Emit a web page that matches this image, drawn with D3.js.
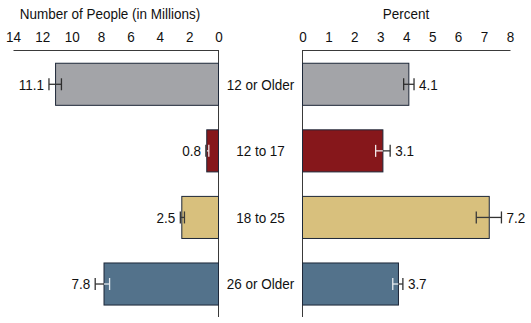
<!DOCTYPE html>
<html><head><meta charset="utf-8">
<script src="https://cdn.jsdelivr.net/npm/d3@7"></script>
<style>
body{margin:0;background:#fff;}
text{font-family:"Liberation Sans",Arial,sans-serif;fill:#111;}
</style></head>
<body><svg id="c" width="531" height="323"></svg>
<script>
const categories = ["12 or Older","12 to 17","18 to 25","26 or Older"];
const peopleMillions = [11.1, 0.8, 2.5, 7.8];
const peopleLow = [10.7, 0.66, 2.32, 7.42];
const peopleHigh = [11.55, 0.86, 2.6, 8.4];
const percentValues = [4.1, 3.1, 7.2, 3.7];
const percentLow = [3.9, 2.82, 6.7, 3.48];
const percentHigh = [4.3, 3.38, 7.67, 3.87];
const leftTicks = [14,12,10,8,6,4,2,0];
const rightTicks = [0,1,2,3,4,5,6,7,8];
const barColors = ["#a3a4a8","#86171b","#d8c07d","#53728b"];
const innerErrColors = ["#2e2e2e","#f2e8ea","#3a3a3a","#e6ebf0"];

const svg = d3.select("#c");
const SX = 0.9, FS = 15;
const xL = d3.scaleLinear().domain([0,14]).range([218.5,13]);
const xR = d3.scaleLinear().domain([0,8]).range([302.5,510]);
const y = d3.scaleBand().domain(categories).range([51,317.3]).paddingInner(0.368).paddingOuter(0.184);

function label(g, x, yy, t, anchor){
  return g.append("text").attr("transform",`translate(${x},${yy}) scale(${SX},1)`)
    .attr("text-anchor",anchor).style("font-size",FS+"px").text(t);
}

// axes
function axis(scale, ticks){
  const g = svg.append("g").attr("transform","translate(0,50)")
    .call(d3.axisTop(scale).tickValues(ticks).tickFormat(d3.format("d")).tickSize(0).tickSizeOuter(0).tickPadding(8.5));
  g.select(".domain").attr("stroke","#3a3a3a").attr("stroke-width",1);
  g.selectAll(".tick text").attr("font-family",null).style("font-size",FS+"px").attr("fill","#111")
    .attr("transform",`scale(${SX},1)`);
  return g;
}
axis(xL, leftTicks);
axis(xR, rightTicks);
[xL(0), xR(0)].forEach(x=>{
  svg.append("line").attr("x1",x).attr("x2",x).attr("y1",50).attr("y2",317)
    .attr("stroke","#3a3a3a").attr("stroke-width",1);
});
label(svg, 110, 18.5, "Number of People (in Millions)", "middle");
label(svg, 406, 18.5, "Percent", "middle");

// bars
function drawSide(scale, vals, lo, hi, dir){
  const g = svg.append("g");
  categories.forEach((c,i)=>{
    const x0 = scale(0), x1 = scale(vals[i]);
    const yb = y(c), h = y.bandwidth(), cy = yb + h/2;
    g.append("rect").attr("x",Math.min(x0,x1)).attr("y",yb).attr("width",Math.abs(x1-x0)).attr("height",h)
      .attr("fill",barColors[i]).attr("stroke","#1d2738").attr("stroke-width",1);
    const xl = scale(lo[i]), xv = x1, xh = scale(hi[i]);
    const cap = 6;
    g.append("line").attr("x1",xl).attr("x2",xv).attr("y1",cy).attr("y2",cy).attr("stroke",innerErrColors[i]).attr("stroke-width",1.3);
    g.append("line").attr("x1",xl).attr("x2",xl).attr("y1",cy-cap).attr("y2",cy+cap).attr("stroke",innerErrColors[i]).attr("stroke-width",1.3);
    g.append("line").attr("x1",xv).attr("x2",xh).attr("y1",cy).attr("y2",cy).attr("stroke","#333").attr("stroke-width",1.3);
    g.append("line").attr("x1",xh).attr("x2",xh).attr("y1",cy-cap).attr("y2",cy+cap).attr("stroke","#333").attr("stroke-width",1.3);
    const tx = dir < 0 ? xh - 5 : xh + 5;
    label(g, tx, cy + 5.3, d3.format(".1f")(vals[i]), dir < 0 ? "end" : "start");
  });
}
drawSide(xL, peopleMillions, peopleLow, peopleHigh, -1);
drawSide(xR, percentValues, percentLow, percentHigh, 1);

// category labels
categories.forEach(c=>{
  label(svg, 260.5, y(c) + y.bandwidth()/2 + 5.3, c, "middle");
});
</script></body></html>
